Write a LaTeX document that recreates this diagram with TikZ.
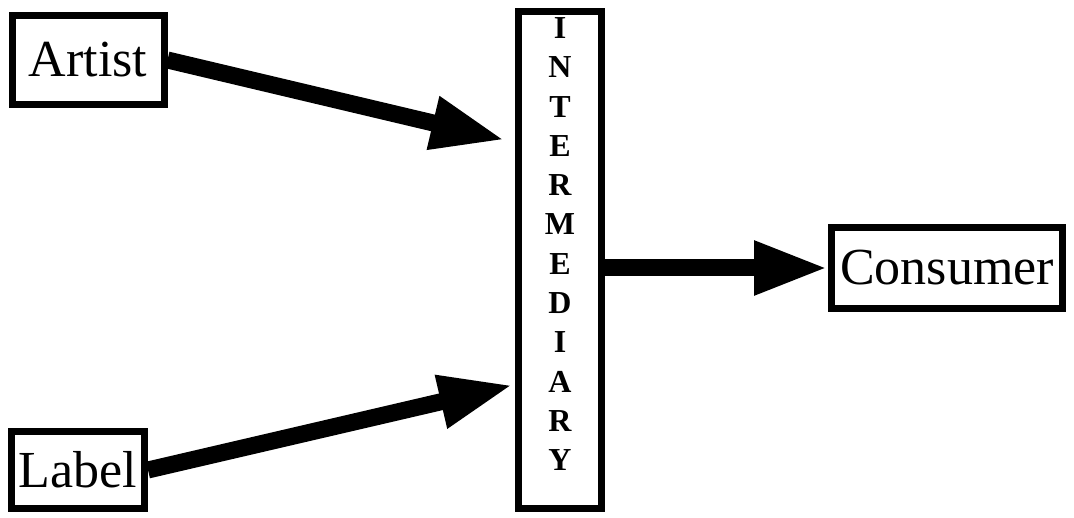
\documentclass[tikz,border=0pt]{standalone}
\usepackage{fontspec}
\setmainfont{Liberation Serif}
\usetikzlibrary{arrows.meta}

\tikzset{
  box/.style={draw=black, line width=7pt, fill=white, inner sep=0pt},
  flow/.style={line width=17pt, -{Triangle[length=74pt,width=50pt]}},
  big/.style={font=\fontsize{52}{60}\selectfont},
}

\begin{document}
\begin{tikzpicture}[x=1pt,y=-1pt]
\path[use as bounding box,fill=white] (0,0) rectangle (1074,518);

% sources on the left, the middle column and the end point
\node[box,big,minimum width=152pt,minimum height=89pt] (artist) at (88,60) {Artist};
\node[box,big,minimum width=133pt,minimum height=77pt] (label) at (78,470) {Label};
\node[box,minimum width=83pt,minimum height=497pt] (inter) at (560,260) {};
\node[box,big,minimum width=231pt,minimum height=81pt] (consumer) at (947,268) {Consumer};

% the word down the column, one letter per row
\foreach \ch [count=\i from 0] in {I,N,T,E,R,M,E,D,I,A,R,Y}
  \node[font=\bfseries\fontsize{32}{36}\selectfont,inner sep=0pt] (ch\i) at (560,{28+39.3*\i}) {\ch};

\coordinate (artin) at (505,140);
\coordinate (labin) at (513,385);

\draw[flow] (artist.east) -- (artin);
\draw[flow] (label.east) -- (labin);
\draw[flow] (inter.east |- consumer.west) -- (consumer.west);
\end{tikzpicture}
\end{document}
